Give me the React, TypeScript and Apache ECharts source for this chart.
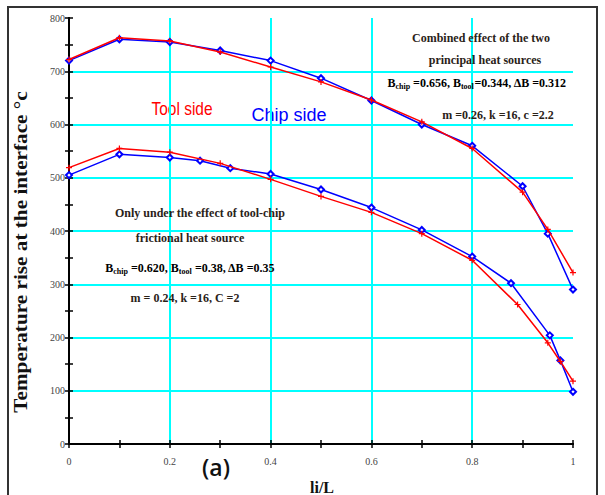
import React, { useEffect, useRef } from "react";
import * as echarts from "echarts";

// Combined effect of the two principal heat sources
const xCombined = [0, 0.1, 0.2, 0.3, 0.4, 0.5, 0.6, 0.7, 0.8, 0.9, 0.95, 1];
const toolCombined = [722, 763, 757, 736, 708, 680, 646, 605, 555, 473, 403, 322];
const chipCombined = [720, 760, 755, 739, 720, 687, 645, 600, 560, 484, 395, 290];

// Only under the effect of tool-chip frictional heat source
const xToolFriction = [0, 0.1, 0.2, 0.3, 0.4, 0.5, 0.6, 0.7, 0.8, 0.89, 0.95, 0.975, 1];
const toolFriction = [519, 555, 548, 527, 497, 465, 435, 395, 345, 262, 190, 155, 118];
const xChipFriction = [0, 0.1, 0.2, 0.26, 0.32, 0.4, 0.5, 0.6, 0.7, 0.8, 0.877, 0.954, 0.975, 1];
const chipFriction = [505, 544, 538, 532, 518, 507, 478, 444, 402, 352, 302, 204, 157, 98];

const xTicks = [0, 0.2, 0.4, 0.6, 0.8, 1];
const yTicks = [0, 100, 200, 300, 400, 500, 600, 700, 800];

const zip = (xs: number[], ys: number[]) => xs.map((x, i) => [x, ys[i]]);

const PLUS = "path://M4,0H6V4H10V6H6V10H4V6H0V4H4Z";
const SERIF = "'Liberation Serif', 'DejaVu Serif', serif";

export default function App() {
  const ref = useRef<HTMLDivElement>(null);
  useEffect(() => {
    if (!ref.current) return;
    const chart = echarts.init(ref.current, null, { renderer: "svg" });
    const annFont = { fontFamily: SERIF, fontSize: 12, fontWeight: "bold", fill: "#2a2218" };
    const rich = {
      n: { fontFamily: SERIF, fontSize: 12, fontWeight: "bold", color: "#2a2218" },
      s: { fontFamily: SERIF, fontSize: 8, fontWeight: "bold", color: "#2a2218", padding: [7, 0, 0, 0] },
    };
    const txt = (text: string, x: number, y: number, extra: any = {}) => ({
      type: "text",
      x,
      y,
      z: 50,
      style: { text, textAlign: "center", textVerticalAlign: "middle", ...annFont, ...extra },
    });
    const axisCommon = {
      type: "value",
      axisLine: { show: true, lineStyle: { color: "#000", width: 2 } },
      axisTick: { show: true, inside: true, length: 4, lineStyle: { color: "#000", width: 1.5 } },
      minorTick: { show: true, splitNumber: 2, length: 4, lineStyle: { color: "#000", width: 1.5 } },
    };
    chart.setOption({
      animation: false,
      backgroundColor: "#fff",
      grid: { left: 69, right: 32, top: 18, bottom: 51 },
      xAxis: [
        {
          ...axisCommon,
          min: 0,
          max: 1,
          interval: 0.2,
          position: "bottom",
          axisLabel: {
            margin: 12,
            fontFamily: SERIF,
            fontSize: 10,
            color: "#444",
            formatter: (v: number) => (xTicks.includes(Math.round(v * 10) / 10) ? String(Math.round(v * 10) / 10) : ""),
          },
          splitLine: { show: true, showMinLine: false, showMaxLine: false, lineStyle: { color: "#00ffff", width: 2 } },
        },
        {
          ...axisCommon,
          min: 0,
          max: 1,
          interval: 0.2,
          position: "top",
          axisLabel: { show: false },
          splitLine: { show: false },
        },
      ],
      yAxis: [
        {
          ...axisCommon,
          min: 0,
          max: 800,
          interval: 100,
          position: "left",
          axisLabel: {
            margin: 4,
            fontFamily: SERIF,
            fontSize: 10,
            color: "#444",
            formatter: (v: number) => (yTicks.includes(v) ? String(v) : ""),
          },
          splitLine: { show: true, showMinLine: false, showMaxLine: false, lineStyle: { color: "#00ffff", width: 2 } },
        },
        {
          ...axisCommon,
          min: 0,
          max: 800,
          interval: 100,
          position: "right",
          axisLabel: { show: false },
          splitLine: { show: false },
        },
      ],
      series: [
        {
          name: "Tool side (combined)",
          type: "line",
          data: zip(xCombined, toolCombined),
          symbol: PLUS,
          symbolSize: 6,
          lineStyle: { color: "#ff0000", width: 1.5 },
          itemStyle: { color: "#ff0000" },
          z: 3,
        },
        {
          name: "Chip side (combined)",
          type: "line",
          data: zip(xCombined, chipCombined),
          symbol: "emptyDiamond",
          symbolSize: 6,
          lineStyle: { color: "#0000ff", width: 1.5 },
          itemStyle: { color: "#0000ff", borderColor: "#0000ff", borderWidth: 1 },
          z: 2,
        },
        {
          name: "Tool side (friction)",
          type: "line",
          data: zip(xToolFriction, toolFriction),
          symbol: PLUS,
          symbolSize: 6,
          lineStyle: { color: "#ff0000", width: 1.5 },
          itemStyle: { color: "#ff0000" },
          z: 3,
        },
        {
          name: "Chip side (friction)",
          type: "line",
          data: zip(xChipFriction, chipFriction),
          symbol: "emptyDiamond",
          symbolSize: 6,
          lineStyle: { color: "#0000ff", width: 1.5 },
          itemStyle: { color: "#0000ff", borderColor: "#0000ff", borderWidth: 1 },
          z: 2,
        },
      ],
      graphic: [
        {
          type: "rect",
          shape: { x: 8, y: 7, width: 589, height: 500 },
          style: { fill: "none", stroke: "#333", lineWidth: 2 },
          z: 0,
          silent: true,
        },
        {
          type: "text",
          x: 21,
          y: 252,
          rotation: Math.PI / 2,
          scaleX: 1.18,
          style: {
            text: "Temperature rise at the interface °c",
            fontFamily: SERIF,
            fontSize: 18,
            fontWeight: "bold",
            fill: "#111",
            textAlign: "center",
            textVerticalAlign: "middle",
          },
        },
        txt("li/L", 322, 487, { fontSize: 16, fill: "#111" }),
        txt("(a)", 216, 467, { fontFamily: "'Open Sans', 'Liberation Sans', sans-serif", fontSize: 23, fontWeight: 600, fill: "#111" }),
        {
          type: "text",
          x: 182,
          y: 109,
          scaleX: 0.86,
          style: {
            text: "Tool side",
            fontFamily: "'Liberation Sans', sans-serif",
            fontSize: 18,
            fill: "#ff0000",
            textAlign: "center",
            textVerticalAlign: "middle",
          },
        },
        {
          type: "text",
          x: 289,
          y: 115,
          style: {
            text: "Chip side",
            fontFamily: "'Liberation Sans', sans-serif",
            fontSize: 18,
            fill: "#0000ff",
            textAlign: "center",
            textVerticalAlign: "middle",
          },
        },
        txt("Combined effect of the two", 481, 38),
        txt("principal heat sources", 485, 60),
        {
          type: "text",
          x: 566,
          y: 83,
          z: 50,
          style: {
            text: "{n|B}{s|chip}{n| =0.656, B}{s|tool}{n|=0.344, ΔB =0.312}",
            rich,
            textAlign: "right",
            textVerticalAlign: "middle",
          },
        },
        txt("m =0.26, k =16, c =2.2", 498, 115),
        txt("Only under the effect of tool-chip", 200, 213),
        txt("frictional heat source", 190, 238),
        {
          type: "text",
          x: 190,
          y: 268,
          z: 50,
          style: {
            text: "{n|B}{s|chip}{n| =0.620, B}{s|tool}{n| =0.38, ΔB =0.35}",
            rich,
            textAlign: "center",
            textVerticalAlign: "middle",
          },
        },
        txt("m = 0.24, k =16, C =2", 185, 298),
      ],
    });
    return () => chart.dispose();
  }, []);
  return <div ref={ref} style={{ width: 605, height: 495, position: "absolute", left: 0, top: 0 }} />;
}
